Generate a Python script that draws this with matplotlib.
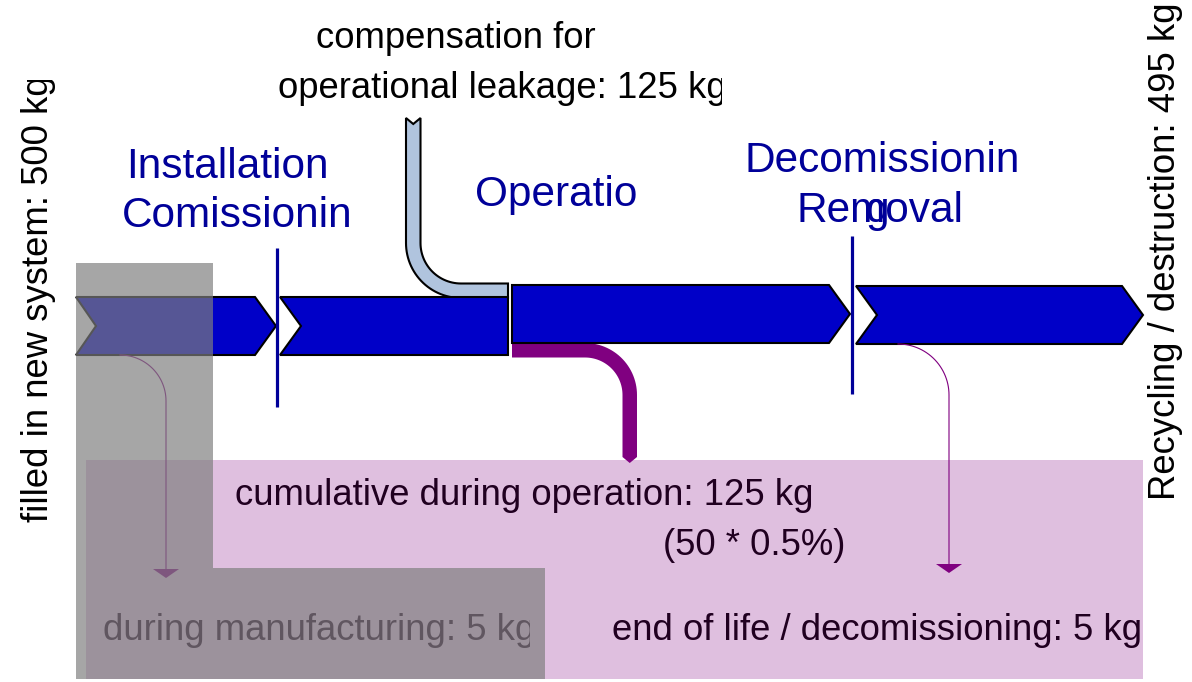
import matplotlib
matplotlib.use('Agg')
import matplotlib.pyplot as plt
from matplotlib.patches import Polygon, Rectangle
from matplotlib.transforms import Bbox, TransformedBbox
import numpy as np

plt.rcParams['font.family'] = ['Liberation Sans', 'DejaVu Sans']

# ---------------- data ----------------
filled_kg = 500
compensation_kg = 125
manufacturing_kg = 5
operation_kg = 125
eol_kg = 5
recycling_kg = 495
operation_note = "(50 * 0.5%)"
phase_labels = ["Installation", "Comissionin", "Operatio", "Decomissionin", "Removal", "g"]

# ---------------- layout ----------------
W, H = 1192, 682
fig = plt.figure(figsize=(W / 100, H / 100), dpi=100)
ax = fig.add_axes([0, 0, 1, 1])
ax.set_xlim(0, W)
ax.set_ylim(H, 0)
ax.axis('off')

px_per_kg = 58.0 / filled_kg
BLUE = '#0000c8'
NAVY = '#000099'
PURPLE = '#800080'
LSB = '#b0c4de'
BODY = 26.3
LAB = 30.5


def chevron(x0, x1, top, notch, tip, width):
    bot = top + width
    mid = top + width / 2
    pts = [(x0, top)]
    if tip:
        pts += [(x1 - tip, top), (x1, mid), (x1 - tip, bot)]
    else:
        pts += [(x1, top), (x1, bot)]
    pts += [(x0, bot)]
    if notch:
        pts += [(x0 + notch, mid)]
    return Polygon(pts, closed=True, fc=BLUE, ec='black', lw=1.5, joinstyle='miter', zorder=3)


wmain = filled_kg * px_per_kg
ax.add_patch(chevron(76, 276, 297, 20, 21, wmain))
ax.add_patch(chevron(280, 508, 297, 21, 0, wmain))
ax.add_patch(chevron(512, 850, 285, 0, 21, wmain))
ax.add_patch(chevron(856, 1143, 286, 21, 21, wmain))

# compensation inflow (light steel blue)
wc = compensation_kg * px_per_kg
R = 55.0
xl, yb, xe, ytop = 406.0, 298.0, 508.0, 118.0
cx, cy = xl + R, yb - R
th = np.linspace(np.pi, np.pi / 2, 30)
outer = [(cx + R * np.cos(t), cy + R * np.sin(t)) for t in th]
inner = [(cx + (R - wc) * np.cos(t), cy + (R - wc) * np.sin(t)) for t in th[::-1]]
pts = [(xl, ytop), (xl, cy)] + outer + [(xe, yb), (xe, yb - wc)] + inner + \
      [(xl + wc, cy), (xl + wc, ytop), (xl + wc / 2, ytop + 6)]
ax.add_patch(Polygon(pts, closed=True, fc=LSB, ec='black', lw=1.5, zorder=2))

# operational leakage outflow (purple)
wo = operation_kg * px_per_kg
R2 = 52.0
xr, yt = 637.0, 343.0
cx2, cy2 = xr - R2, yt + R2
th2 = np.linspace(-np.pi / 2, 0, 30)
outer2 = [(cx2 + R2 * np.cos(t), cy2 + R2 * np.sin(t)) for t in th2]
inner2 = [(cx2 + (R2 - wo) * np.cos(t), cy2 + (R2 - wo) * np.sin(t)) for t in th2[::-1]]
pts2 = [(512, yt)] + outer2 + [(xr, 457), (xr - wo / 2, 463), (xr - wo, 457)] + inner2 + [(512, yt + wo)]
ax.add_patch(Polygon(pts2, closed=True, fc=PURPLE, ec='none', zorder=2))


# thin leaders (5 kg)
def leader(xs, ys, r, yend, z):
    c = (xs, ys + r)
    t = np.linspace(-np.pi / 2, 0, 30)
    xx = list(c[0] + r * np.cos(t)) + [xs + r]
    yy = list(c[1] + r * np.sin(t)) + [yend]
    ax.plot(xx, yy, color=PURPLE, lw=manufacturing_kg * px_per_kg * 1.4, zorder=z)
    xv = xs + r
    ax.add_patch(Polygon([(xv - 13, yend), (xv + 13, yend), (xv, yend + 9)], closed=True,
                         fc=PURPLE, ec='none', zorder=z))


leader(120, 355, 46, 569, 4)
leader(898, 344, 51, 564, 4)

# phase separators
ax.plot([277, 277], [248, 407], color=NAVY, lw=2.3, zorder=4, solid_capstyle='butt')
ax.plot([852, 852], [236, 394], color=NAVY, lw=2.3, zorder=4, solid_capstyle='butt')


def clipped(t, x0, y0, x1, y1):
    t.set_clip_box(TransformedBbox(Bbox.from_extents(x0, y0, x1, y1), ax.transData))
    t.set_clip_on(True)


# phase labels
ax.text(126, 178, phase_labels[0], fontsize=LAB, color=NAVY, ha='left', va='baseline', zorder=4)
ax.text(122, 227, phase_labels[1], fontsize=LAB, color=NAVY, ha='left', va='baseline', zorder=4)
ax.text(475, 206, phase_labels[2], fontsize=LAB, color=NAVY, ha='left', va='baseline', zorder=4)
ax.text(744, 172, phase_labels[3], fontsize=LAB, color=NAVY, ha='left', va='baseline', zorder=4)
ax.text(797, 222, phase_labels[4], fontsize=LAB, color=NAVY, ha='left', va='baseline', zorder=4)
ax.text(865, 222, phase_labels[5], fontsize=LAB, color=NAVY, ha='left', va='baseline', zorder=4)

# body labels
ax.text(316, 48, "compensation for", fontsize=BODY, color='black', ha='left', va='baseline', zorder=1)
t = ax.text(278, 98, f"operational leakage: {compensation_kg} kg", fontsize=BODY, color='black',
            ha='left', va='baseline', zorder=1)
clipped(t, 0, 0, 722, H)
t = ax.text(235, 505, f"cumulative during operation: {operation_kg} kg", fontsize=BODY, color='black',
            ha='left', va='baseline', zorder=1)
clipped(t, 0, 0, 812, H)
ax.text(663, 555, operation_note, fontsize=BODY, color='black', ha='left', va='baseline', zorder=1)
t = ax.text(612, 640, f"end of life / decomissioning: {eol_kg} kg", fontsize=BODY, color='black',
            ha='left', va='baseline', zorder=1)
clipped(t, 0, 0, 1140, H)
t = ax.text(103, 640, f"during manufacturing: {manufacturing_kg} kg", fontsize=BODY, color='black',
            ha='left', va='baseline', zorder=1)
clipped(t, 0, 0, 530, H)
t = ax.text(48, 522, f"filled in new system: {filled_kg} kg", fontsize=BODY, color='black', rotation=90,
            rotation_mode='anchor', ha='left', va='baseline', zorder=1)
clipped(t, 0, 80, W, H)
ax.text(1175, 500, f"Recycling / destruction: {recycling_kg} kg", fontsize=BODY, color='black', rotation=90,
        rotation_mode='anchor', ha='left', va='baseline', zorder=1)

# translucent overlays
ax.add_patch(Rectangle((86, 460), 1057, 219, fc=PURPLE, alpha=0.25, ec='none', zorder=3.5))
ax.add_patch(Rectangle((76, 263), 137, 416, fc='#7e7e7e', alpha=0.69, ec='none', zorder=6))
ax.add_patch(Rectangle((213, 568), 332, 111, fc='#7e7e7e', alpha=0.69, ec='none', zorder=6))

fig.savefig('out.png', dpi=100)
